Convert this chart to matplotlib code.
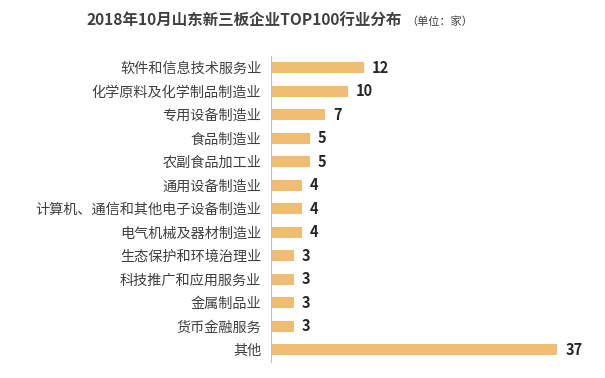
import matplotlib.pyplot as plt

plt.rcParams['font.family'] = ['Noto Sans CJK SC', 'DejaVu Sans']

# 行业与企业数量（从上到下）
industries = ['软件和信息技术服务业', '化学原料及化学制品制造业', '专用设备制造业', '食品制造业',
              '农副食品加工业', '通用设备制造业', '计算机、通信和其他电子设备制造业', '电气机械及器材制造业',
              '生态保护和环境治理业', '科技推广和应用服务业', '金属制品业', '货币金融服务', '其他']
counts = [12, 10, 7, 5, 5, 4, 4, 4, 3, 3, 3, 3, 37]

fig = plt.figure(figsize=(6.05, 3.78), dpi=100)
ax = fig.add_axes([271 / 605, 16.5 / 378, 319 / 605, 305.5 / 378])

y = list(range(len(industries)))
ax.barh(y, counts, height=0.45, color='#F0BC72')
ax.set_ylim(len(industries) - 0.5, -0.5)
ax.set_xlim(0, 41.2)

ax.set_yticks(y)
ax.set_yticklabels(industries, fontsize=10.2, color='#404040')
ax.tick_params(axis='y', length=0, pad=7)
ax.set_xticks([])

for s in ['top', 'right', 'bottom']:
    ax.spines[s].set_visible(False)
ax.spines['left'].set_color('#BFBFBF')
ax.spines['left'].set_linewidth(0.8)

for yi, c in zip(y, counts):
    ax.text(c + 1.0, yi, str(c), va='center', ha='left', fontsize=10.5,
            fontweight='bold', color='#262626')

fig.text(0.665, 0.945, '2018年10月山东新三板企业TOP100行业分布', ha='right', va='center',
         fontsize=11.2, fontweight='bold', color='#404040')
fig.text(0.672, 0.943, '（单位：家）', ha='left', va='center', fontsize=8, color='#404040')

fig.savefig('out.png', dpi=100)
